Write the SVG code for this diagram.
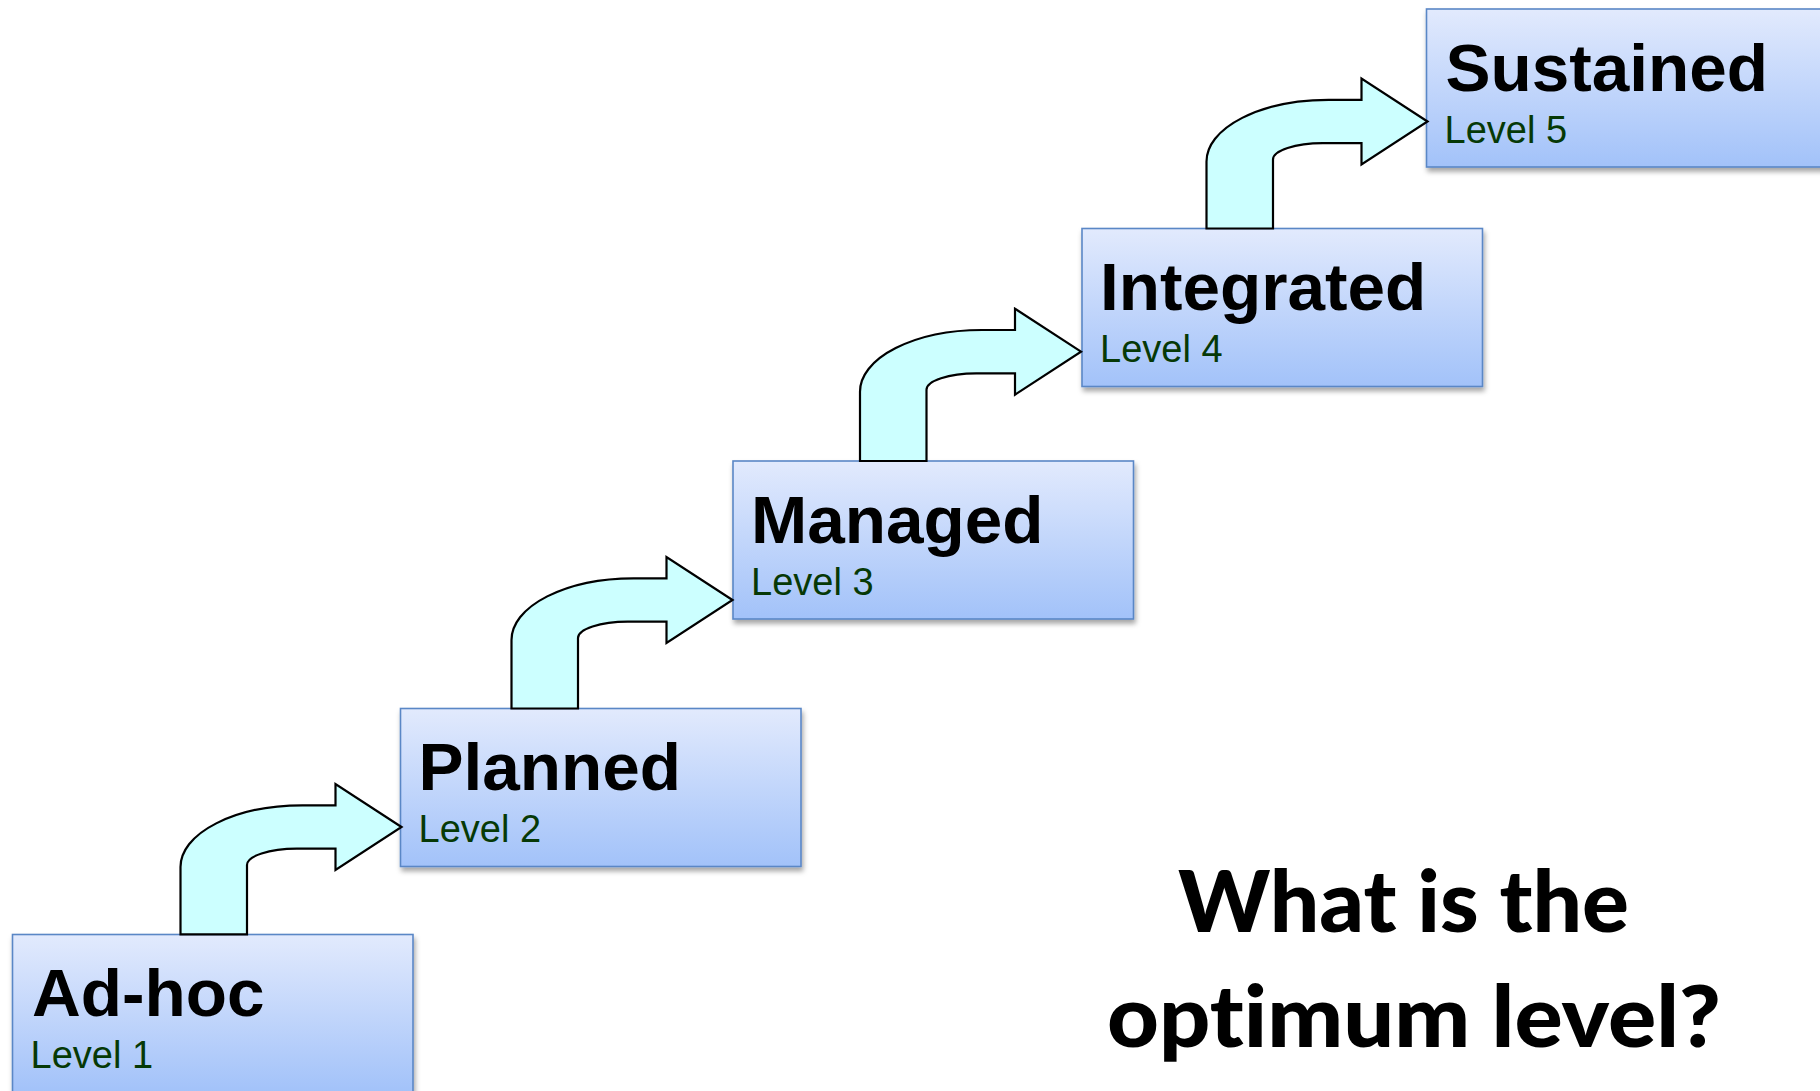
<svg xmlns="http://www.w3.org/2000/svg" width="1820" height="1091" viewBox="0 0 1820 1091">
  <defs>
    <linearGradient id="boxGrad" x1="0" y1="0" x2="0" y2="1">
      <stop offset="0" stop-color="#e2eafd"/>
      <stop offset="1" stop-color="#a2c2f9"/>
    </linearGradient>
    <filter id="shadow" x="-10%" y="-10%" width="125%" height="130%">
      <feDropShadow dx="1.5" dy="4" stdDeviation="2.5" flood-color="#000" flood-opacity="0.35"/>
    </filter>
    <style>
      .box { fill: url(#boxGrad); stroke: #5a87c6; stroke-width: 1.6; filter: url(#shadow); }
      .title { font-family: "Liberation Sans", Arial, sans-serif; font-weight: bold; font-size: 67.5px; fill: #000; }
      .level { font-family: "Liberation Sans", Arial, sans-serif; font-size: 38px; fill: #063906; }
      .arrow { fill: #ccffff; stroke: #000; stroke-width: 2.2; stroke-linejoin: miter; }
      .question { font-family: Lato, "Open Sans", sans-serif; font-weight: 900; font-size: 86px; fill: #000; font-variant-ligatures: none; font-feature-settings: "liga" 0; }
    </style>
  </defs>
  <rect width="1820" height="1091" fill="#ffffff"/>

  <g id="node-adhoc">
    <rect class="box" x="12.5" y="934.5" width="400.5" height="158"/>
    <text class="title" x="32" y="1016">Ad-hoc</text>
    <text class="level" x="30.5" y="1068">Level 1</text>
  </g>
  <g id="node-planned">
    <rect class="box" x="400.5" y="708.5" width="400.5" height="158"/>
    <text class="title" x="418.5" y="790">Planned</text>
    <text class="level" x="418.5" y="842">Level 2</text>
  </g>
  <g id="node-managed">
    <rect class="box" x="733" y="461" width="400.5" height="158"/>
    <text class="title" x="751" y="542.5">Managed</text>
    <text class="level" x="751" y="594.5">Level 3</text>
  </g>
  <g id="node-integrated">
    <rect class="box" x="1082" y="228.5" width="400.5" height="158"/>
    <text class="title" x="1100" y="310">Integrated</text>
    <text class="level" x="1100" y="362">Level 4</text>
  </g>
  <g id="node-sustained">
    <rect class="box" x="1426.5" y="9" width="400.5" height="158"/>
    <text class="title" x="1445.5" y="90.5">Sustained</text>
    <text class="level" x="1444.5" y="142.5">Level 5</text>
  </g>

  <g id="connectors">
    <path class="arrow" transform="translate(401.5,827)" d="M0,0 L-66,-43 L-66,-21.7 L-99,-21.7 A122,61.7 0 0 0 -221,40 L-221,107.3 L-154.5,107.3 L-154.5,38 A49.8,16.3 0 0 1 -104.7,21.7 L-66,21.7 L-66,43 Z"/>
    <path class="arrow" transform="translate(732.5,600)" d="M0,0 L-66,-43 L-66,-21.7 L-99,-21.7 A122,61.7 0 0 0 -221,40 L-221,108.5 L-154.5,108.5 L-154.5,38 A49.8,16.3 0 0 1 -104.7,21.7 L-66,21.7 L-66,43 Z"/>
    <path class="arrow" transform="translate(1081,351.7)" d="M0,0 L-66,-43 L-66,-21.7 L-99,-21.7 A122,61.7 0 0 0 -221,40 L-221,109.3 L-154.5,109.3 L-154.5,38 A49.8,16.3 0 0 1 -104.7,21.7 L-66,21.7 L-66,43 Z"/>
    <path class="arrow" transform="translate(1427.5,121.5)" d="M0,0 L-66,-43 L-66,-21.7 L-99,-21.7 A122,61.7 0 0 0 -221,40 L-221,107 L-154.5,107 L-154.5,38 A49.8,16.3 0 0 1 -104.7,21.7 L-66,21.7 L-66,43 Z"/>
  </g>

  <g id="question">
    <text class="question" x="1178" y="931.5" textLength="451" lengthAdjust="spacingAndGlyphs">What is the</text>
    <text class="question" x="1107" y="1046.5" textLength="614" lengthAdjust="spacingAndGlyphs">optimum level?</text>
  </g>
</svg>
